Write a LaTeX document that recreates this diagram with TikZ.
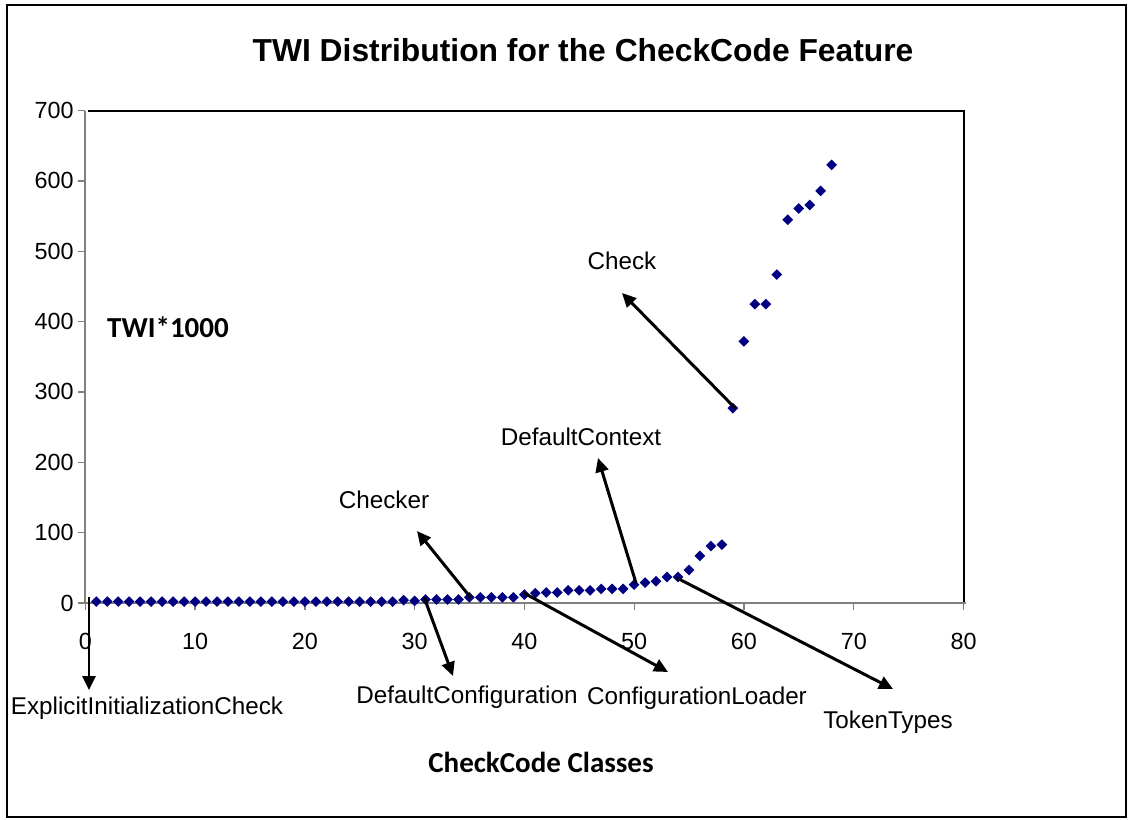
\documentclass[tikz,border=0pt]{standalone}
\usepackage{fontspec}
\setmainfont{Liberation Sans}
\newfontfamily\calibri{Carlito}
\usetikzlibrary{arrows.meta, shapes.geometric}
\definecolor{navy}{RGB}{0,0,128}
\definecolor{axisgray}{RGB}{128,128,128}

\begin{document}
\begin{tikzpicture}[x=0.02cm, y=-0.02cm,
    datapt/.style={diamond, fill=navy, inner sep=0pt, minimum width=0.22cm, minimum height=0.22cm},
    lbl/.style={font=\fontsize{13.3}{15}\selectfont, inner sep=0pt},
    classlbl/.style={font=\fontsize{13.8}{16}\selectfont, inner sep=0pt},
    axtitle/.style={font=\calibri\bfseries\fontsize{16.5}{19}\selectfont, inner sep=0pt},
    callout/.style={line width=1.7pt, -{Triangle[length=0.28cm,width=0.26cm]}}]
  \useasboundingbox (0,0) rectangle (1130,819);
  \draw[line width=1.2pt] (7,5) rectangle (1126,817);
  % Title
  \node[font=\bfseries\fontsize{18.1}{21}\selectfont, inner sep=0pt] (title) at (583,50) {TWI Distribution for the CheckCode Feature};
  % Plot area and axes
  \draw[line width=0.9pt] (88,111) -- (964,111) -- (964,603);
  \draw[axisgray, line width=0.8pt] (85,111) -- (85,603) -- (966,603);
  \foreach \v in {0,100,...,700} {
    \draw[axisgray, line width=0.8pt] (78,{603-\v*0.7036}) -- (85,{603-\v*0.7036});
    \node[lbl, anchor=east] (ytick\v) at (74,{603-\v*0.7036}) {\v};
  }
  \foreach \v in {0,10,...,80} {
    \draw[axisgray, line width=0.8pt] ({85.3+\v*10.978},603) -- ({85.3+\v*10.978},610);
    \node[lbl] (xtick\v) at ({85.3+\v*10.978},641) {\v};
  }
  \node[axtitle] (ytitle) at (168,327) {TWI*1000};
  \node[axtitle] (xtitle) at (541,762) {CheckCode Classes};
  % Data
  \begin{scope}[shift={(85.3,603)}, x=0.21956cm, y=0.014072cm]
    \foreach \i in {1,...,28}
      \node[datapt] (d\i) at (\i,2) {};
    \foreach \i/\v in {29/4,30/3,31/5,32/5,33/5,34/5,35/8,36/8,37/8,38/8,39/8,
        40/12,41/14,42/15,43/15,44/18,45/18,46/18,47/20,48/20,49/20,
        50/26,51/29,52/31,53/37,54/37,55/47,56/67,57/81,58/83,
        59/277,60/372,61/425,62/425,63/467,64/545,65/561,66/566,67/586,68/623}
      \node[datapt] (d\i) at (\i,\v) {};
  \end{scope}
  % Class labels
  \node[classlbl] (eic) at (147,708) {ExplicitInitializationCheck};
  \node[classlbl] (dconf) at (467,697) {DefaultConfiguration};
  \node[classlbl] (cload) at (697,698) {ConfigurationLoader};
  \node[classlbl] (ttypes) at (888,722) {TokenTypes};
  \node[classlbl] (checker) at (384,500) {Checker};
  \node[classlbl] (dctx) at (581,437) {DefaultContext};
  \node[classlbl] (check) at (622,261) {Check};
  % Arrow ends
  \coordinate (eicA) at (89,597);   \coordinate (eicB) at (89,690);
  \coordinate (dconfA) at (424,597); \coordinate (dconfB) at (453,676);
  \coordinate (checkerA) at (471,598); \coordinate (checkerB) at (417,531);
  \coordinate (cloadA) at (524,593); \coordinate (cloadB) at (668,672);
  \coordinate (dctxA) at (636,583); \coordinate (dctxB) at (598,458);
  \coordinate (ttypesA) at (677,578); \coordinate (ttypesB) at (893,689);
  \coordinate (checkA) at (735,408); \coordinate (checkB) at (622,293);
  % Arrows
  \foreach \n in {eic,dconf,checker,cload,dctx,ttypes,check}
    \draw[callout] (\n A) -- (\n B);
\end{tikzpicture}
\end{document}
